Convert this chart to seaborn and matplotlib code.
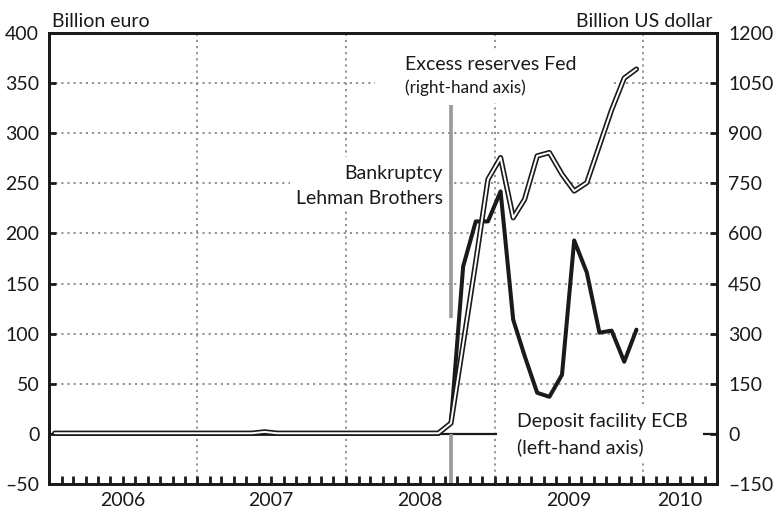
"""
Deposit facility ECB vs. excess reserves Fed, 2006-2010.
"""

import numpy as np
import pandas as pd
import matplotlib
matplotlib.use("Agg")
import matplotlib.pyplot as plt
import matplotlib.dates as mdates
from matplotlib.patches import Rectangle
from matplotlib.ticker import FixedLocator, FixedFormatter, NullFormatter
import seaborn as sns

# ── Data (monthly averages, Jan 2006 - Dec 2009) ─────────────
months = pd.date_range("2006-01-01", "2009-12-01", freq="MS") + pd.Timedelta(days=14)

ecb_deposit = [  # billion euro, left-hand axis
    0, 0, 0, 0, 0, 0, 0, 0, 0, 0, 0, 0,            # 2006
    0, 0, 0, 0, 0, 0, 0, 0, 0, 0, 0, 0,            # 2007
    0, 0, 0, 0, 0, 0, 0, 0, 11, 167, 212, 212,     # 2008
    242, 114, 78, 41, 37, 59, 193, 161, 101, 103, 72, 104,  # 2009
]
fed_excess = [  # billion US dollar, right-hand axis
    2, 2, 2, 2, 2, 2, 2, 2, 2, 2, 2, 2,            # 2006
    2, 2, 2, 2, 2, 6, 2, 2, 2, 2, 2, 2,            # 2007
    2, 2, 2, 2, 2, 2, 2, 2, 32, 269, 515, 762,     # 2008
    827, 647, 702, 832, 842, 777, 727, 752, 863, 970, 1065, 1092,  # 2009
]

left_ticks = [-50, 0, 50, 100, 150, 200, 250, 300, 350, 400]
right_ticks = [-150, 0, 150, 300, 450, 600, 750, 900, 1050, 1200]
year_labels = ["2006", "2007", "2008", "2009", "2010"]
year_label_pos = ["2006-07-01", "2007-07-01", "2008-07-01", "2009-07-01", "2010-04-01"]
lehman_date = "2008-09-15"

df = pd.DataFrame({"month": months, "ecb": ecb_deposit, "fed": fed_excess})

# ── Style ─────────────────────────────────────────────────────
sns.set_theme(style="white")
plt.rcParams["font.family"] = ["Lato", "DejaVu Sans"]
FS = 14
INK = "#1a1a1a"

fig = plt.figure(figsize=(7.75, 5.14), dpi=100)
ax = fig.add_axes([49 / 775, 30 / 514, 668 / 775, 451 / 514])
ax2 = ax.twinx()

x0, x1 = pd.Timestamp("2006-01-01"), pd.Timestamp("2010-07-01")
ax.set_xlim(x0, x1)
ax.set_ylim(-50, 400)
ax2.set_ylim(-150, 1200)

# grid
grid_kw = dict(color="#8a8a8a", lw=1.3, ls=(0, (1.2, 2.2)), zorder=0)
for v in left_ticks[2:-1]:
    ax.axhline(v, **grid_kw)
for yr in ["2007-01-01", "2008-01-01", "2009-01-01", "2010-01-01"]:
    ax.axvline(pd.Timestamp(yr), **grid_kw)

# zero line
ax.axhline(0, color=INK, lw=1.6, zorder=1)

# Lehman marker
lehman = pd.Timestamp(lehman_date)
ax.vlines(lehman, -50, 0, color="#999999", lw=2.6, zorder=1.5)
ax.vlines(lehman, 116, 328, color="#999999", lw=2.6, zorder=1.5)

# ECB deposit facility (thick black)
sns.lineplot(data=df, x="month", y="ecb", ax=ax, color=INK, lw=2.9, zorder=3)

# Fed excess reserves (double line)
sns.lineplot(data=df, x="month", y="fed", ax=ax2, color=INK, lw=3.8, zorder=3)
sns.lineplot(data=df, x="month", y="fed", ax=ax2, color="white", lw=1.4, zorder=4)

# ── Axes cosmetics ───────────────────────────────────────────
for a in (ax, ax2):
    for s in a.spines.values():
        s.set_color(INK)
        s.set_linewidth(2.0)
    a.set_xlabel("")
    a.set_ylabel("")

ax.set_yticks(left_ticks)
ax.set_yticklabels([f"{v:d}".replace("-", "\u2013") for v in left_ticks], fontsize=FS)
ax2.set_yticks(right_ticks)
ax2.set_yticklabels([f"{v:d}".replace("-", "\u2013") for v in right_ticks], fontsize=FS)
ax.tick_params(axis="y", direction="in", length=5, width=2, color=INK, pad=7,
               left=True, labelcolor=INK)
ax2.tick_params(axis="y", direction="in", length=5, width=2, color=INK, pad=8,
                right=True, labelcolor=INK)

ax.xaxis.remove_overlapping_locs = False
ax.xaxis.set_major_locator(mdates.MonthLocator())
ax.xaxis.set_major_formatter(NullFormatter())
ax.xaxis.set_minor_locator(FixedLocator(mdates.date2num(pd.to_datetime(year_label_pos))))
ax.xaxis.set_minor_formatter(FixedFormatter(year_labels))
ax.tick_params(axis="x", which="major", direction="in", length=6, width=2,
               color=INK, bottom=True)
ax.tick_params(axis="x", which="minor", length=0, pad=6, labelsize=FS,
               labelcolor=INK, bottom=True, labelbottom=True)
ax2.tick_params(axis="x", which="both", bottom=False, labelbottom=False)

# ── Annotations ──────────────────────────────────────────────
def fx(px):
    return (px - 49) / 668


def fy(py):
    return (484 - py) / 451


def white_box(xa, ya, xb, yb):
    ax.add_patch(Rectangle((fx(xa), fy(yb)), fx(xb) - fx(xa), fy(ya) - fy(yb),
                           transform=ax.transAxes, fc="white", ec="none", zorder=2))


ax.text(0.005, 1.006, "Billion euro", transform=ax.transAxes, fontsize=FS,
        ha="left", va="bottom", color=INK)
ax.text(0.993, 1.006, "Billion US dollar", transform=ax.transAxes, fontsize=FS,
        ha="right", va="bottom", color=INK)

white_box(375, 50, 610, 103)
ax.text(fx(405), fy(65), "Excess reserves Fed", transform=ax.transAxes, fontsize=FS,
        ha="left", va="center", color=INK, zorder=5)
ax.text(fx(405), fy(88), "(right-hand axis)", transform=ax.transAxes, fontsize=12.3,
        ha="left", va="center", color=INK, zorder=5)

white_box(290, 157, 449, 210)
ax.text(fx(443), fy(173), "Bankruptcy", transform=ax.transAxes, fontsize=FS,
        ha="right", va="center", color=INK, zorder=5)
ax.text(fx(443), fy(199), "Lehman Brothers", transform=ax.transAxes, fontsize=FS,
        ha="right", va="center", color=INK, zorder=5)

white_box(497, 405, 703, 462)
ax.text(fx(517), fy(422), "Deposit facility ECB", transform=ax.transAxes, fontsize=FS,
        ha="left", va="center", color=INK, zorder=5)
ax.text(fx(517), fy(447), "(left-hand axis)", transform=ax.transAxes, fontsize=FS,
        ha="left", va="center", color=INK, zorder=5)

fig.savefig("out.png", dpi=100)
plt.close(fig)
